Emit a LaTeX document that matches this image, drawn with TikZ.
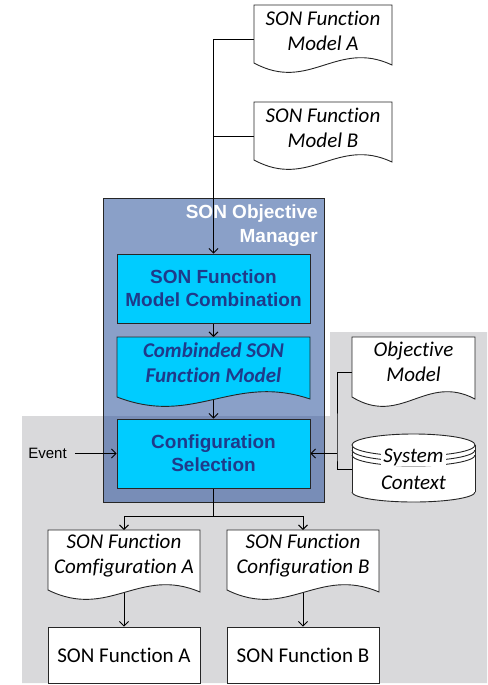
\documentclass[tikz,border=0pt]{standalone}
\usepackage{fontspec}
\setmainfont{Carlito}[Ligatures=NoCommon]
\newfontfamily\arialfam{Liberation Sans}
\usetikzlibrary{arrows.meta}
\pgfdeclarelayer{back}
\pgfdeclarelayer{edges}
\pgfsetlayers{back,edges,main}
\definecolor{panelgray}{RGB}{217,217,219}
\definecolor{mgrblue}{RGB}{34,75,151}
\definecolor{boxcyan}{RGB}{0,204,255}
\definecolor{navytext}{RGB}{31,58,138}

% Document symbol with a wavy lower edge.
% #1 name, #2 left, #3 top, #4 right, #5 wave base, #6 text y,
% #7 fill colour, #8 text style, #9 text
\newcommand\docshape[9]{%
  \path[outline,fill=#7] (#2,#3) -- (#4,#3) -- (#4,{#5+2})
    .. controls ({#2+0.6*(#4-#2)},{#5-24}) and ({#2+0.4*(#4-#2)},{#5+30}) .. (#2,#5) -- cycle;
  \node[anchorbox, minimum width={(#4-#2)*1pt}, minimum height={(#5+10-#3)*1pt}]
    (#1) at ({(#2+#4)/2},{(#3+#5+10)/2}) {};
  \node[#8] (#1-text) at ({(#2+#4)/2},#6) {#9};
}

\begin{document}
\begin{tikzpicture}[x=1pt,y=-1pt,
  line/.style={draw=black, line width=0.9pt},
  arr/.style={line, -{Straight Barb[length=4.5pt,width=9pt]}},
  outline/.style={draw=black!85, line width=0.9pt},
  anchorbox/.style={inner sep=0pt, outer sep=0pt, draw=none},
  doctext/.style={inner sep=0pt, align=center, font=\fontsize{21}{25.5}\selectfont\itshape},
  bluedoctext/.style={doctext, text=navytext, font=\fontsize{21}{25.5}\selectfont\bfseries\itshape},
  procbox/.style={outline, fill=boxcyan, inner sep=0pt, align=center, text=navytext,
    font=\arialfam\bfseries\fontsize{19}{23}\selectfont},
  funcbox/.style={outline, fill=white, inner sep=0pt, align=center,
    font=\fontsize{21}{25.5}\selectfont},
]
\useasboundingbox (0,0) rectangle (487,685);

% shaded panel and the manager frame
\begin{pgfonlayer}{back}
  \fill[panelgray] (330,332) -- (487,332) -- (487,683) -- (22,683) -- (22,416) -- (330,416) -- cycle;
  \node[draw=black!85, line width=0.9pt, fill=mgrblue, fill opacity=0.53,
        minimum width=221pt, minimum height=304pt, inner sep=0pt] (mgr) at (213.5,350) {};
\end{pgfonlayer}

\node[anchor=east, align=right, inner sep=0pt, text=white,
      font=\arialfam\bfseries\fontsize{19}{24}\selectfont] (mgr-title) at (318,225.5)
      {SON Objective\\Manager};

% input models
\docshape{modelA}{254}{5}{392}{63}{31}{white}{doctext}{SON Function\\Model A}
\docshape{modelB}{254}{102}{392}{160}{128}{white}{doctext}{SON Function\\Model B}

% manager internals
\node[procbox, minimum width=193pt, minimum height=69pt] (comb) at (213.5,288.5)
  {SON Function\\Model Combination};
\docshape{combdoc}{117}{337}{310}{397}{362.5}{boxcyan}{bluedoctext}{Combinded SON\\Function Model}
\node[procbox, minimum width=193pt, minimum height=69pt] (config) at (213.5,453.5)
  {Configuration\\Selection};

% objective model and system context
\docshape{objdoc}{352}{337}{475}{397}{362}{white}{doctext}{Objective\\Model}

\fill[white] (352,445) rectangle (475,492);
\fill[white] (413.5,492) ellipse [x radius=61.5pt, y radius=10pt];
\draw[outline] (352,445) -- (352,492) (475,445) -- (475,492);
\begin{scope}
  \clip (340,492) rectangle (490,506);
  \draw[outline] (413.5,492) ellipse [x radius=61.5pt, y radius=10pt];
\end{scope}
\foreach \cy in {450,455} {
  \begin{scope}
    \clip (340,\cy) rectangle (490,{\cy+14});
    \draw[outline] (413.5,\cy) ellipse [x radius=61.5pt, y radius=11pt];
  \end{scope}
}
\draw[outline, fill=white] (413.5,445) ellipse [x radius=61.5pt, y radius=11pt];
\node[anchorbox, minimum width=123pt, minimum height=65pt] (sys) at (413.5,469) {};
\node[doctext, fill=white, inner xsep=2pt, inner ysep=0pt] (sys-top) at (413.5,457) {System};
\node[doctext] (sys-bottom) at (413.5,483) {Context};

% trigger
\node[inner sep=0pt, font=\arialfam\fontsize{15}{18}\selectfont] (event) at (47.5,453.5) {Event};

% outputs
\docshape{cfgA}{48}{530}{200}{590}{555.5}{white}{doctext}{SON Function\\Comfiguration A}
\docshape{cfgB}{227}{530}{379}{590}{555.5}{white}{doctext}{SON Function\\Configuration B}
\node[funcbox, minimum width=152pt, minimum height=56pt] (funA) at (124,655) {SON Function A};
\node[funcbox, minimum width=152pt, minimum height=56pt] (funB) at (303,655) {SON Function B};

\coordinate (bus) at (337,453.5);
\coordinate (split) at (213.5,516);

% connectors
\begin{pgfonlayer}{edges}
  \draw[arr] (modelA.west) -| (comb.north);
  \draw[line] (modelB.west) -- (modelB.west -| comb.north);
  \draw[arr] (comb.south) -- (combdoc.north);
  \draw[arr] (combdoc.center) -- (config.north);
  \draw[arr] ([xshift=8pt]event.east) -- (config.west);
  \draw[line] (objdoc.west) -| (bus) |- (sys.west);
  \draw[arr] (bus) -- (config.east);
  \draw[line] (config.south) -- (split);
  \draw[arr] (split) -| (cfgA.north);
  \draw[arr] (split) -| (cfgB.north);
  \draw[arr] (cfgA.center) -- (funA.north);
  \draw[arr] (cfgB.center) -- (funB.north);
\end{pgfonlayer}
\end{tikzpicture}
\end{document}
